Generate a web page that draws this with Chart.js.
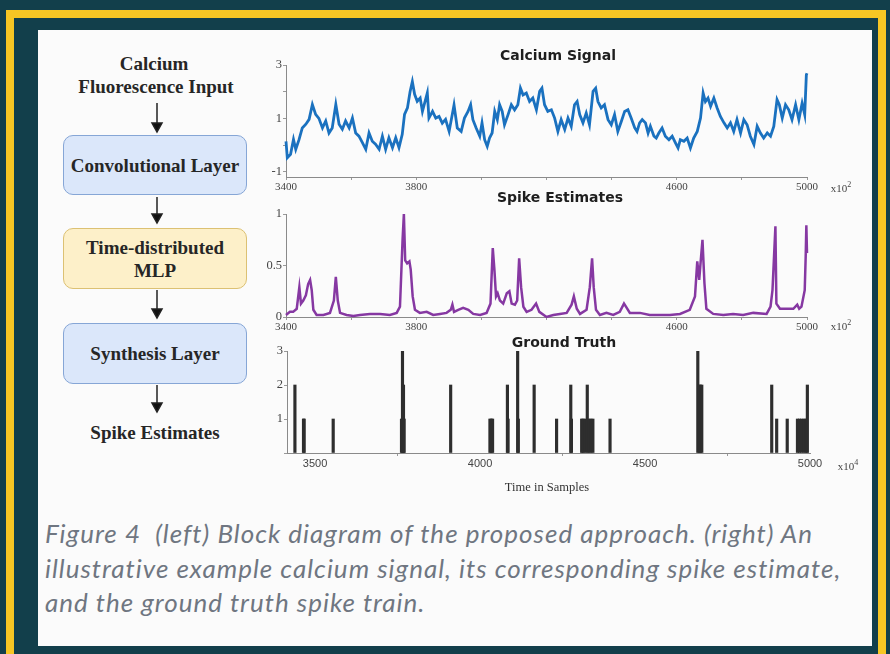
<!DOCTYPE html>
<html>
<head>
<meta charset="utf-8">
<script src="https://cdn.jsdelivr.net/npm/chart.js@4.4.0/dist/chart.umd.min.js"></script>
<style>
html, body { margin: 0; padding: 0; background: #123f4b; }
#page { position: relative; width: 890px; height: 654px; overflow: hidden; background: #123f4b; }
#frame { position: absolute; left: 6px; top: 10px; width: 864px; height: 700px; border: 8px solid #f6c624; }
#panel { position: absolute; left: 38px; top: 30px; width: 834px; height: 616px; background: #fbfbfb; }
.t { position: absolute; white-space: nowrap; transform: translate(-50%, -50%); }
.dia { font: bold 19px "Liberation Serif", serif; color: #262626; }
.box { position: absolute; left: 63px; width: 182px; border-radius: 10px; display: flex; align-items: center;
       justify-content: center; text-align: center; font: bold 19px "Liberation Serif", serif; color: #262626; line-height: 23px; }
.blue { background: #dbe7fa; border: 1.5px solid #86a6d6; }
.yellow { background: #fdf0c9; border: 1.5px solid #dcc173; }
.ttl { font: bold 14px "DejaVu Sans", sans-serif; color: #1e1e1e; }
.mul { font: 11px "Liberation Serif", serif; color: #444; }
canvas { position: absolute; }
#caption { position: absolute; left: 45px; top: 516px; font: italic 26px Lato, sans-serif; letter-spacing: 1px;
           color: #6f7681; line-height: 34.5px; white-space: nowrap; }
</style>
</head>
<body>
<div id="page">
  <div id="frame"></div>
  <div id="panel"></div>

  <div class="t dia" style="left:154px;top:64px;">Calcium</div>
  <div class="t dia" style="left:156px;top:87px;">Fluorescence Input</div>
  <div class="box blue" style="top:135px;height:58px;">Convolutional Layer</div>
  <div class="box yellow" style="top:228px;height:59px;">Time-distributed<br>MLP</div>
  <div class="box blue" style="top:323px;height:59px;">Synthesis Layer</div>
  <div class="t dia" style="left:155px;top:433px;">Spike Estimates</div>
  <svg style="position:absolute;left:0;top:0;" width="890" height="654">
    <g stroke="#222" stroke-width="1.5" fill="#111">
      <line x1="157" y1="103" x2="157" y2="124"/><polygon points="152,123 162,123 157,132"/>
      <line x1="157" y1="197" x2="157" y2="215"/><polygon points="152,214 162,214 157,223"/>
      <line x1="157" y1="290" x2="157" y2="310"/><polygon points="152,309 162,309 157,318"/>
      <line x1="157" y1="385" x2="157" y2="404"/><polygon points="152,403 162,403 157,412"/>
    </g>
  </svg>

  <canvas id="calcium" width="610" height="150" style="left:240px;top:50px;"></canvas>
  <canvas id="spikes" width="610" height="135" style="left:240px;top:200px;"></canvas>
  <canvas id="truth" width="620" height="140" style="left:240px;top:340px;"></canvas>

  <div class="t ttl" style="left:558px;top:55px;">Calcium Signal</div>
  <div class="t ttl" style="left:560px;top:197px;">Spike Estimates</div>
  <div class="t ttl" style="left:564px;top:342px;">Ground Truth</div>
  <div class="t mul" style="left:841px;top:187px;">x10<sup style="font-size:8px">2</sup></div>
  <div class="t mul" style="left:841px;top:325px;">x10<sup style="font-size:8px">2</sup></div>
  <div class="t mul" style="left:848px;top:465px;">x10<sup style="font-size:8px">4</sup></div>
  <div class="t" style="left:547px;top:487px;font:12.5px 'Liberation Serif',serif;color:#333;">Time in Samples</div>

  <div id="caption">Figure 4&nbsp; (left) Block diagram of the proposed approach. (right) An<br>illustrative example calcium signal, its corresponding spike estimate,<br>and the ground truth spike train.</div>
</div>

<script>
// calcium trace (x10^2 samples)
const calTime = [3400, 3404, 3414, 3423, 3430, 3440, 3450, 3461, 3471, 3481, 3491, 3501, 3512, 3522, 3532, 3542, 3553, 3563, 3573, 3583,
  3594, 3604, 3614, 3624, 3635, 3645, 3655, 3665, 3675, 3686, 3696, 3706, 3716, 3727, 3737, 3747, 3757, 3764, 3773, 3781,
  3788, 3795, 3803, 3812, 3819, 3834, 3839, 3850, 3860, 3870, 3880, 3890, 3901, 3916, 3926, 3938, 3948, 3959, 3967, 3974,
  3984, 3995, 4002, 4010, 4018, 4025, 4033, 4041, 4049, 4056, 4064, 4071, 4082, 4092, 4102, 4112, 4120, 4128, 4138, 4148,
  4158, 4169, 4179, 4186, 4194, 4204, 4215, 4225, 4235, 4245, 4256, 4266, 4276, 4286, 4294, 4302, 4312, 4322, 4332, 4343,
  4351, 4358, 4368, 4378, 4389, 4399, 4409, 4419, 4430, 4440, 4450, 4460, 4471, 4478, 4486, 4494, 4504, 4512, 4519, 4530,
  4537, 4545, 4555, 4565, 4576, 4586, 4596, 4604, 4611, 4622, 4632, 4642, 4652, 4663, 4673, 4681, 4688, 4696, 4704, 4714,
  4724, 4734, 4745, 4755, 4765, 4775, 4785, 4796, 4806, 4816, 4826, 4837, 4847, 4857, 4867, 4878, 4888, 4898, 4908, 4915,
  4924, 4934, 4944, 4954, 4965, 4975, 4985, 4993, 4998, 5000];
const calValue = [0.14, -0.48, -0.35, 0.21, -0.16, 0.20, 0.64, 0.78, 0.96, 1.52, 1.15, 1.00, 0.64, 0.90, 0.45, 0.64, 1.52, 0.78, 0.59, 0.90,
  0.64, 1.01, 0.45, 0.33, 0.08, -0.16, 0.45, 0.14, 0.03, -0.16, 0.33, -0.16, 0.27, -0.10, 0.27, -0.10, 0.40, 1.15, 1.39, 2.00,
  2.38, 1.90, 1.64, 1.76, 1.26, 1.95, 1.01, 1.26, 1.01, 1.07, 0.82, 0.96, 0.51, 1.50, 0.64, 0.51, 1.01, 1.26, 1.51, 0.95,
  0.64, 0.33, 0.83, 0.20, -0.05, 0.26, 0.45, 1.26, 0.95, 1.51, 1.26, 0.76, 1.14, 1.51, 1.32, 1.51, 2.13, 1.88, 1.95, 1.63,
  1.76, 1.32, 2.01, 2.13, 1.51, 1.26, 1.32, 1.01, 0.51, 0.95, 0.58, 1.01, 0.70, 1.51, 1.63, 1.14, 0.83, 1.20, 0.76, 2.01,
  2.13, 1.63, 1.39, 1.51, 0.95, 0.76, 1.14, 0.51, 0.89, 1.26, 1.32, 1.01, 0.64, 0.51, 0.83, 0.95, 0.83, 0.45, 0.70, 0.33,
  0.26, 0.45, 0.64, 0.33, 0.20, 0.33, 0.08, -0.11, 0.20, 0.14, 0.26, -0.11, 0.26, 0.51, 1.01, 1.95, 1.63, 1.76, 1.45, 1.76,
  1.39, 1.07, 0.83, 0.64, 0.83, 0.51, 0.95, 0.45, 0.95, 0.76, 0.33, 0.02, 0.70, 0.45, 0.26, 0.45, 0.33, 0.70, 1.70, 1.51,
  1.01, 1.51, 1.32, 0.95, 1.51, 0.95, 1.57, 1.14, 2.63, 2.69];

// spike estimate trace
const spikeTime = [3400, 3412, 3422, 3433, 3441, 3446, 3453, 3461, 3468, 3474, 3479, 3484, 3494, 3515, 3535, 3547, 3553, 3559, 3566, 3586,
  3607, 3627, 3658, 3689, 3719, 3740, 3750, 3758, 3762, 3766, 3772, 3779, 3783, 3789, 3796, 3811, 3832, 3852, 3873, 3893,
  3906, 3911, 3916, 3929, 3944, 3960, 3975, 3996, 4016, 4028, 4035, 4040, 4045, 4050, 4057, 4067, 4078, 4086, 4093, 4103,
  4110, 4116, 4122, 4129, 4139, 4154, 4168, 4178, 4200, 4221, 4241, 4262, 4277, 4284, 4293, 4303, 4323, 4333, 4340, 4345,
  4352, 4364, 4384, 4405, 4425, 4438, 4444, 4456, 4487, 4517, 4548, 4579, 4610, 4640, 4656, 4663, 4669, 4673, 4679, 4685,
  4691, 4712, 4743, 4773, 4804, 4835, 4876, 4888, 4894, 4903, 4906, 4917, 4937, 4958, 4970, 4976, 4983, 4993, 4996, 4998, 5000];
const spikeValue = [0.02, 0.05, 0.05, 0.08, 0.29, 0.13, 0.16, 0.21, 0.32, 0.36, 0.26, 0.07, 0.02, 0.02, 0.04, 0.16, 0.39, 0.16, 0.04, 0.02,
  0.01, 0.02, 0.03, 0.03, 0.02, 0.04, 0.10, 0.75, 1.00, 0.55, 0.52, 0.54, 0.46, 0.20, 0.07, 0.04, 0.05, 0.02, 0.03, 0.04,
  0.07, 0.12, 0.05, 0.07, 0.09, 0.07, 0.03, 0.02, 0.04, 0.13, 0.67, 0.46, 0.20, 0.23, 0.16, 0.13, 0.23, 0.25, 0.13, 0.12,
  0.16, 0.57, 0.29, 0.10, 0.05, 0.07, 0.13, 0.05, 0.00, 0.02, 0.03, 0.04, 0.12, 0.20, 0.08, 0.03, 0.07, 0.29, 0.57, 0.29,
  0.07, 0.02, 0.04, 0.02, 0.05, 0.13, 0.10, 0.04, 0.04, 0.02, 0.02, 0.02, 0.03, 0.07, 0.20, 0.54, 0.36, 0.52, 0.75, 0.33,
  0.08, 0.03, 0.02, 0.03, 0.02, 0.04, 0.03, 0.10, 0.26, 0.88, 0.13, 0.08, 0.08, 0.08, 0.12, 0.08, 0.10, 0.26, 0.59, 0.89, 0.62];

// ground truth spike counts (x10^4 samples axis)
const gtTime = [3439, 3465, 3467, 3555, 3762, 3765, 3768, 3770, 3911, 4030, 4034, 4038, 4083, 4085, 4114, 4116, 4164, 4232, 4275, 4277,
  4308, 4312, 4318, 4325, 4330, 4336, 4342, 4394, 4660, 4664, 4668, 4672, 4884, 4899, 4931, 4962, 4968, 4975, 4982, 4988, 4992];
const gtCount = [2, 1, 1, 1, 1, 3, 2, 1, 2, 1, 1, 1, 2, 1, 3, 1, 2, 1, 2, 1,
  1, 1, 1, 2, 1, 1, 1, 1, 3, 2, 2, 2, 2, 1, 1, 1, 1, 1, 1, 1, 2];

const topXTicks = [3400, 3600, 3800, 4000, 4200, 4400, 4600, 4800, 5000];
const topXLabels = [3400, 3800, 4600, 5000];
const calYTicks = [-1, 0, 1, 2, 3];
const calYLabels = [-1, 1, 3];
const spikeYTicks = [0, 0.5, 1];
const gtXTicks = [3500, 4000, 4500, 5000];
const gtYTicks = [0, 1, 2, 3];
const gtYLabels = [1, 2, 3];

function axis(ticks, labels, extra, font) {
  return Object.assign({
    type: 'linear',
    afterBuildTicks: s => { s.ticks = ticks.map(v => ({ value: v })); },
    ticks: {
      autoSkip: false, maxRotation: 0, padding: 1, color: '#444',
      font: font || { family: 'Liberation Serif', size: 11 },
      callback: v => labels.includes(v) ? String(v) : ''
    },
    grid: { drawOnChartArea: false, tickLength: 3, color: '#999' },
    border: { display: true, color: '#8a8a8a' }
  }, extra);
}

const yFont = { family: 'Liberation Serif', size: 12.5 };

const common = {
  responsive: false,
  animation: false,
  plugins: { legend: { display: false }, tooltip: { enabled: false } }
};

const pts = (xs, ys) => xs.map((x, i) => ({ x: x, y: ys[i] }));

new Chart(document.getElementById('calcium'), {
  type: 'line',
  data: { datasets: [{ data: pts(calTime, calValue), borderColor: '#1a71bf', borderWidth: 2.8, pointRadius: 0, clip: 4 }] },
  options: Object.assign({}, common, {
    layout: { padding: { top: 15, right: 43, bottom: 3, left: 0 } },
    scales: {
      x: axis(topXTicks, topXLabels, { min: 3400, max: 5000, afterFit: s => { s.height = 20; } }),
      y: axis(calYTicks, calYLabels, { min: -1.2, max: 3, afterFit: s => { s.width = 46; } }, yFont)
    }
  })
});

new Chart(document.getElementById('spikes'), {
  type: 'line',
  data: { datasets: [{ data: pts(spikeTime, spikeValue), borderColor: '#8638a2', borderWidth: 2.5, pointRadius: 0, clip: 4 }] },
  options: Object.assign({}, common, {
    layout: { padding: { top: 14, right: 43, bottom: 3, left: 0 } },
    scales: {
      x: axis(topXTicks, topXLabels, { min: 3400, max: 5000, afterFit: s => { s.height = 15; } }),
      y: axis(spikeYTicks, spikeYTicks, { min: 0, max: 1, afterFit: s => { s.width = 46; } }, yFont)
    }
  })
});

new Chart(document.getElementById('truth'), {
  type: 'bar',
  data: { datasets: [{ data: pts(gtTime, gtCount), backgroundColor: '#2e2e2e', barThickness: 2.5 }] },
  options: Object.assign({}, common, {
    layout: { padding: { top: 11, right: 50, bottom: 3, left: 0 } },
    scales: {
      x: axis(gtXTicks, gtXTicks, { min: 3415, max: 5000, offset: false, afterFit: s => { s.height = 24; } },
        { family: 'Liberation Sans', size: 11 }),
      y: axis(gtYTicks, gtYLabels, { min: 0, max: 3, afterFit: s => { s.width = 47; } }, yFont)
    }
  })
});
</script>
</body>
</html>
